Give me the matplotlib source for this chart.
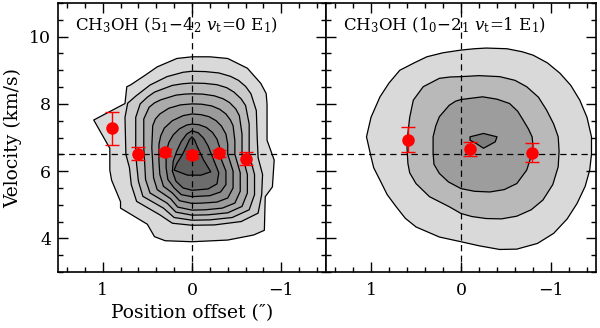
import matplotlib
matplotlib.use("Agg")
import matplotlib.pyplot as plt
from matplotlib.ticker import MultipleLocator

plt.rcParams['font.family'] = ['DejaVu Serif']
plt.rcParams['mathtext.fontset'] = 'dejavuserif'

# ---------------- data ----------------
titles = [r'CH$_3$OH (5$_1$$-$4$_2$ $\mathit{v}_\mathrm{t}$=0 E$_1$)',
          r'CH$_3$OH (1$_0$$-$2$_1$ $\mathit{v}_\mathrm{t}$=1 E$_1$)']
xlabel = 'Position offset (″)'
ylabel = 'Velocity (km/s)'
x_ticks = [1, 0, -1]
x_tick_labels = ['1', '0', '−1']
y_ticks = [4, 6, 8, 10]
v_sys = 6.5

# left panel: centroid points
left_pos = [0.9, 0.6, 0.3, 0.0, -0.3, -0.6]
left_vel = [7.27, 6.52, 6.56, 6.49, 6.53, 6.37]
left_err = [0.49, 0.19, 0.10, 0.10, 0.10, 0.20]

# right panel: centroid points
right_pos = [0.59, -0.10, -0.79]
right_vel = [6.94, 6.66, 6.55]
right_err = [0.37, 0.20, 0.29]

# left panel contour outlines (position, velocity), outer -> inner
left_c1 = [(0.00, 9.40), (-0.20, 9.40), (-0.40, 9.35), (-0.62, 9.06), (-0.77, 8.61), (-0.83, 8.31),
           (-0.84, 8.00), (-0.84, 6.92), (-0.92, 6.33), (-0.90, 5.53), (-0.82, 5.24), (-0.81, 4.24),
           (-0.69, 4.10), (-0.40, 3.95), (0.00, 3.90), (0.30, 3.93), (0.42, 4.05), (0.50, 4.42),
           (0.80, 4.90), (0.80, 5.09), (0.90, 5.73), (0.92, 6.03), (0.92, 6.68), (1.10, 7.52),
           (0.75, 8.01), (0.73, 8.51), (0.69, 8.56), (0.52, 8.86), (0.39, 9.10), (0.17, 9.35)]
left_c2 = [(0.00, 8.97), (-0.15, 8.96), (-0.30, 8.92), (-0.43, 8.82), (-0.52, 8.70), (-0.60, 8.52),
           (-0.66, 8.30), (-0.72, 7.80), (-0.73, 7.00), (-0.74, 6.40), (-0.79, 5.90), (-0.78, 5.30),
           (-0.74, 4.75), (-0.55, 4.50), (-0.25, 4.40), (0.00, 4.39), (0.22, 4.45), (0.36, 4.70),
           (0.62, 5.10), (0.68, 5.60), (0.70, 6.10), (0.74, 6.50), (0.75, 7.60), (0.72, 8.02),
           (0.63, 8.23), (0.47, 8.56), (0.28, 8.81), (0.10, 8.94)]
left_c3 = [(0.00, 8.62), (-0.14, 8.61), (-0.28, 8.57), (-0.39, 8.48), (-0.47, 8.35), (-0.55, 8.15),
           (-0.60, 7.95), (-0.64, 7.40), (-0.64, 6.50), (-0.70, 5.90), (-0.70, 5.30), (-0.64, 4.85),
           (-0.45, 4.62), (-0.20, 4.55), (0.00, 4.54), (0.20, 4.62), (0.32, 4.90), (0.55, 5.25),
           (0.60, 5.70), (0.62, 6.20), (0.63, 6.60), (0.63, 7.60), (0.58, 8.00), (0.50, 8.20),
           (0.42, 8.35), (0.22, 8.55), (0.10, 8.60)]
left_c4 = [(0.00, 8.30), (-0.12, 8.29), (-0.25, 8.24), (-0.35, 8.15), (-0.42, 8.04), (-0.49, 7.85),
           (-0.53, 7.65), (-0.56, 7.10), (-0.56, 6.50), (-0.62, 5.90), (-0.62, 5.35), (-0.56, 4.95),
           (-0.40, 4.76), (-0.18, 4.70), (0.00, 4.69), (0.18, 4.78), (0.28, 5.05), (0.47, 5.35),
           (0.52, 5.75), (0.53, 6.25), (0.54, 6.70), (0.54, 7.55), (0.48, 7.90), (0.42, 8.03),
           (0.35, 8.12), (0.18, 8.26), (0.08, 8.29)]
left_c5 = [(0.00, 8.00), (-0.11, 7.99), (-0.22, 7.94), (-0.31, 7.84), (-0.38, 7.70), (-0.43, 7.52),
           (-0.46, 7.35), (-0.48, 6.90), (-0.48, 6.50), (-0.54, 5.95), (-0.54, 5.40), (-0.48, 5.05),
           (-0.34, 4.90), (-0.15, 4.85), (0.00, 4.84), (0.16, 4.93), (0.24, 5.18), (0.39, 5.45),
           (0.43, 5.80), (0.44, 6.25), (0.45, 6.70), (0.44, 7.35), (0.41, 7.55), (0.36, 7.70),
           (0.26, 7.87), (0.13, 7.97)]
left_c6 = [(0.00, 7.70), (-0.10, 7.68), (-0.19, 7.62), (-0.27, 7.50), (-0.33, 7.34), (-0.38, 7.10),
           (-0.40, 6.80), (-0.40, 6.50), (-0.46, 6.00), (-0.46, 5.50), (-0.40, 5.20), (-0.28, 5.08),
           (-0.12, 5.05), (0.00, 5.04), (0.14, 5.12), (0.22, 5.35), (0.32, 5.55), (0.36, 5.90),
           (0.37, 6.30), (0.37, 6.80), (0.35, 7.05), (0.31, 7.28), (0.22, 7.50), (0.10, 7.65)]
left_c7 = [(0.00, 7.40), (-0.08, 7.38), (-0.16, 7.30), (-0.23, 7.15), (-0.28, 6.95), (-0.31, 6.70),
           (-0.32, 6.40), (-0.38, 6.00), (-0.38, 5.60), (-0.32, 5.38), (-0.20, 5.27), (0.00, 5.24),
           (0.12, 5.30), (0.20, 5.50), (0.27, 5.75), (0.29, 6.10), (0.29, 6.55), (0.26, 6.85),
           (0.21, 7.08), (0.14, 7.26), (0.06, 7.37)]
left_c8 = [(0.00, 7.20), (-0.07, 7.14), (-0.13, 6.98), (-0.18, 6.75), (-0.24, 6.35), (-0.30, 5.95),
           (-0.28, 5.62), (-0.18, 5.47), (0.00, 5.43), (0.10, 5.50), (0.18, 5.70), (0.22, 6.00),
           (0.21, 6.30), (0.17, 6.60), (0.12, 6.88), (0.06, 7.10)]
left_c9 = [(0.00, 7.02), (-0.03, 6.92), (-0.06, 6.72), (-0.13, 6.33), (-0.21, 5.98), (-0.10, 5.88),
           (0.05, 5.88), (0.20, 6.03), (0.17, 6.23), (0.11, 6.48), (0.06, 6.75), (0.03, 6.93)]
left_contours = [left_c1, left_c2, left_c3, left_c4, left_c5, left_c6, left_c7, left_c8, left_c9]
left_shades = ['#d9d9d9', '#cacaca', '#bababa', '#ababab', '#9b9b9b', '#8c8c8c', '#7d7d7d', '#6d6d6d', '#5e5e5e']

# right panel contour outlines
right_c1 = [(0.00, 9.60), (-0.15, 9.64), (-0.28, 9.66), (-0.51, 9.64), (-0.68, 9.55), (-0.80, 9.45),
            (-0.96, 9.22), (-1.10, 8.91), (-1.22, 8.55), (-1.32, 8.11), (-1.40, 7.60), (-1.45, 7.02),
            (-1.45, 6.50), (-1.43, 6.03), (-1.38, 5.55), (-1.29, 5.04), (-1.18, 4.58), (-1.03, 4.15),
            (-0.85, 3.85), (-0.62, 3.68), (-0.43, 3.67), (-0.20, 3.78), (0.00, 3.90), (0.24, 4.04),
            (0.50, 4.34), (0.62, 4.60), (0.72, 4.94), (0.82, 5.30), (0.90, 5.73), (0.97, 6.10),
            (1.00, 6.43), (1.05, 7.02), (1.00, 7.60), (0.90, 8.21), (0.80, 8.62), (0.68, 9.00),
            (0.52, 9.22), (0.38, 9.40), (0.20, 9.52)]
right_c2 = [(0.00, 8.81), (-0.20, 8.84), (-0.43, 8.81), (-0.60, 8.70), (-0.73, 8.51), (-0.86, 8.20),
            (-0.95, 7.82), (-1.03, 7.40), (-1.08, 7.02), (-1.09, 6.60), (-1.08, 6.13), (-1.02, 5.60),
            (-0.91, 5.14), (-0.78, 4.85), (-0.62, 4.66), (-0.45, 4.58), (-0.28, 4.59), (-0.12, 4.65),
            (0.00, 4.74), (0.13, 4.94), (0.35, 5.24), (0.50, 5.63), (0.57, 5.95), (0.59, 6.23),
            (0.60, 6.70), (0.59, 7.12), (0.57, 7.60), (0.53, 8.11), (0.42, 8.51), (0.24, 8.76),
            (0.12, 8.80)]
right_c3 = [(0.00, 8.13), (-0.12, 8.17), (-0.24, 8.21), (-0.40, 8.14), (-0.54, 8.01), (-0.63, 7.78),
            (-0.69, 7.52), (-0.75, 7.25), (-0.79, 7.02), (-0.80, 6.75), (-0.79, 6.53), (-0.73, 6.03),
            (-0.62, 5.63), (-0.48, 5.45), (-0.32, 5.38), (-0.15, 5.40), (0.00, 5.48), (0.14, 5.68),
            (0.24, 5.93), (0.30, 6.20), (0.31, 6.53), (0.31, 7.02), (0.28, 7.35), (0.24, 7.62),
            (0.13, 7.96), (0.06, 8.08)]
right_c4 = [(-0.10, 7.02), (-0.25, 7.12), (-0.40, 7.02), (-0.38, 6.87), (-0.25, 6.68), (-0.17, 6.82),
            (-0.10, 6.92)]
right_contours = [right_c1, right_c2, right_c3, right_c4]
right_shades = ['#d9d9d9', '#b9b9b9', '#9d9d9d', '#7d7d7d']

# ---------------- plot ----------------
fig = plt.figure(figsize=(6.0, 3.28), dpi=100)
W, H = 600.0, 328.0
ax1 = fig.add_axes([58 / W, 1 - 272 / H, 268 / W, 269 / H])
ax2 = fig.add_axes([326 / W, 1 - 272 / H, 270 / W, 269 / H])

panels = [(ax1, left_contours, left_shades, left_pos, left_vel, left_err, titles[0]),
          (ax2, right_contours, right_shades, right_pos, right_vel, right_err, titles[1])]

for i, (ax, conts, shades, px, pv, pe, title) in enumerate(panels):
    for k, (poly, col) in enumerate(zip(conts, shades)):
        xs = [p[0] for p in poly]
        ys = [p[1] for p in poly]
        ax.fill(xs, ys, facecolor=col, edgecolor='black', linewidth=0.9,
                joinstyle='round', zorder=1 + k * 0.01)
    ax.axvline(0, color='black', lw=0.9, ls=(0, (5, 3.5)), zorder=3)
    ax.axhline(v_sys, color='black', lw=0.9, ls=(0, (5, 3.5)), zorder=3)
    ax.errorbar(px, pv, yerr=pe, fmt='o', color='#ff0000', ms=8, capsize=5,
                elinewidth=1.0, capthick=1.0, zorder=4)
    ax.set_xlim(1.5, -1.5)
    ax.set_ylim(3, 11)
    ax.xaxis.set_major_locator(MultipleLocator(1))
    ax.xaxis.set_minor_locator(MultipleLocator(0.2))
    ax.yaxis.set_major_locator(MultipleLocator(2))
    ax.yaxis.set_minor_locator(MultipleLocator(0.5))
    ax.set_xticks(x_ticks)
    ax.set_xticklabels(x_tick_labels)
    ax.tick_params(which='both', direction='in', top=True, right=True, width=1.0, labelsize=12.5)
    ax.tick_params(which='major', length=7, pad=7)
    ax.tick_params(which='minor', length=3.5)
    for s in ax.spines.values():
        s.set_linewidth(1.2)
    ax.text(0.063, 0.918, title, transform=ax.transAxes, fontsize=12, va='center', ha='left', zorder=5)

ax1.set_yticks(y_ticks)
ax1.set_yticklabels([str(v) for v in y_ticks])
ax1.tick_params(axis='y', which='major', pad=5)
ax2.set_yticks(y_ticks)
ax2.set_yticklabels([])
ax1.set_ylabel(ylabel, fontsize=13.5, labelpad=5)
ax1.set_xlabel(xlabel, fontsize=13.5, labelpad=4)

fig.savefig('out.png', dpi=100)
